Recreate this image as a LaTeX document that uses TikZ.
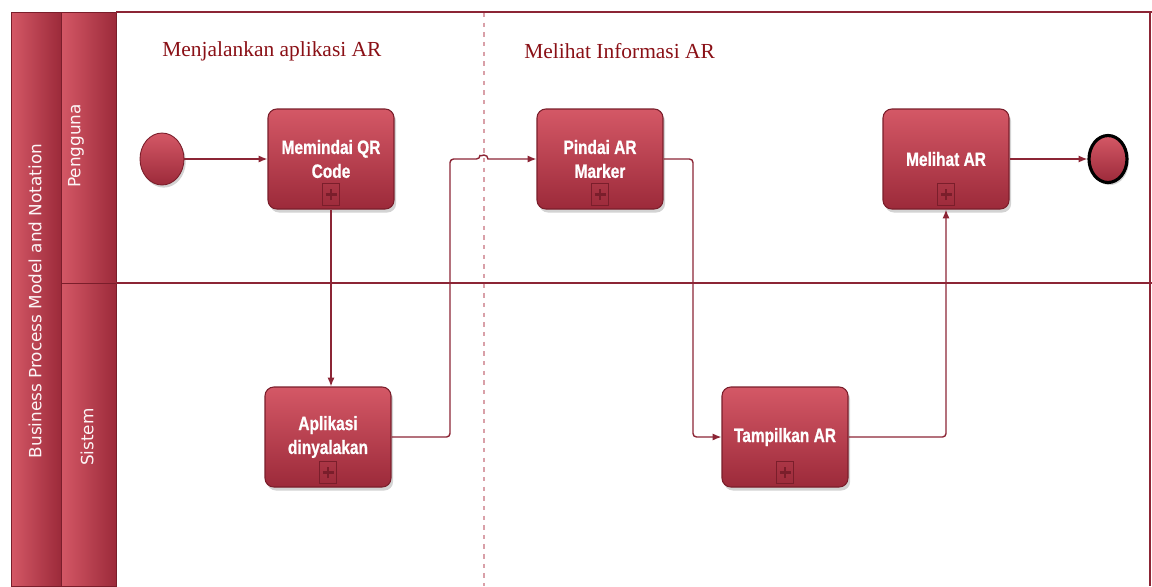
\documentclass[tikz,border=0pt]{standalone}
\usepackage{fontspec}
\setmainfont{Liberation Serif}
\newfontfamily\taskfont[FakeStretch=0.8,BoldFeatures={FakeBold=0.8}]{Liberation Sans}
\newfontfamily\lanefont{DejaVu Sans}
\usetikzlibrary{arrows.meta,shapes.geometric,shadows}
\definecolor{bpmtop}{HTML}{D45866}
\definecolor{bpmbot}{HTML}{9C2A3A}
\definecolor{bpmedge}{HTML}{7A1E2B}
\definecolor{bpmline}{HTML}{8C2535}
\definecolor{bpmtitle}{HTML}{8A1016}
\definecolor{bpmdash}{HTML}{D9A0A8}
\begin{document}
\begin{tikzpicture}[x=0.02cm,y=-0.02cm,
  band/.style={draw=bpmedge, line width=0.5pt, left color=bpmtop, right color=bpmbot},
  lanelabel/.style={rotate=90, text=white!94!bpmtop, font={\lanefont\fontsize{9.6}{11}\selectfont}},
  phase/.style={anchor=west, inner sep=0pt, text=bpmtitle, font={\fontsize{12.2}{14}\selectfont}},
  task/.style={draw=bpmedge, line width=0.6pt, rounded corners=5pt,
    top color=bpmtop, bottom color=bpmbot, minimum width=2.52cm, minimum height=2cm,
    align=center, text=white, font={\taskfont\bfseries\fontsize{11}{13.6}\selectfont},
    drop shadow={shadow xshift=1.2pt, shadow yshift=-2pt, opacity=0.35}},
  plusbox/.style={draw=bpmedge, line width=0.7pt, minimum width=0.34cm, minimum height=0.44cm, inner sep=0pt,
    path picture={\draw[bpmedge, line width=1.3pt]
      ([xshift=-0.11cm]path picture bounding box.center) -- ([xshift=0.11cm]path picture bounding box.center)
      ([yshift=-0.11cm]path picture bounding box.center) -- ([yshift=0.11cm]path picture bounding box.center);}},
  event/.style={ellipse, draw=bpmedge, line width=0.5pt, top color=bpmtop, bottom color=bpmbot,
    minimum width=0.88cm, minimum height=1.04cm,
    drop shadow={shadow xshift=1pt, shadow yshift=-1.5pt, opacity=0.35}},
  endevent/.style={event, draw=black, line width=1.8pt, minimum width=0.76cm, minimum height=0.94cm},
  flow/.style={draw=bpmline, line width=0.8pt, rounded corners=2pt, -{Latex[length=5pt,width=4pt]}}]
\useasboundingbox (0,0) rectangle (1152,586);

% pool and lanes
\draw[band] (11,12) rectangle (61,586);
\draw[band] (61,12) rectangle (116,283);
\draw[band] (61,283) rectangle (116,586);
\draw[bpmline, line width=0.8pt] (116,12) -- (1152,12);
\draw[bpmline, line width=0.8pt] (116,283) -- (1152,283);
\draw[bpmline, line width=0.8pt] (1150,12) -- (1150,586);
\node[lanelabel] (poolname) at (35,301) {Business Process Model and Notation};
\node[lanelabel] (pengguna) at (76,146) {Pengguna};
\node[lanelabel] (sistem) at (87,437) {Sistem};

% phases
\draw[bpmdash, line width=0.8pt, dash pattern=on 2.5pt off 3pt] (484,13) -- (484,586);
\node[phase] (run) at (162,51) {Menjalankan aplikasi AR};
\node[phase] (view) at (524,51) {Melihat Informasi AR};

% events and tasks
\node[event] (start) at (162,159) {};
\node[endevent] (stop) at (1108,159) {};
\node[task] (qr) at (331,159) {Memindai QR\\Code};
\node[task] (app) at (328,437) {Aplikasi\\dinyalakan};
\node[task] (pindai) at (600,159) {Pindai AR\\Marker};
\node[task] (tampil) at (785,437) {Tampilkan AR};
\node[task] (lihat) at (946,159) {Melihat AR};
\foreach \t in {qr,app,pindai,tampil,lihat}
{
\node[plusbox] (\t-plus) at ([yshift=0.3cm]\t.south) {};
}

% flows
\coordinate (hop) at (480,159);
\draw[flow] (start) -- (qr);
\draw[flow] (qr.south) -- (qr.south |- app.north);
\draw[flow] (app.east) -- (450,437) -- (450,159) -- (hop) [sharp corners] arc (180:0:0.08cm) -- (pindai.west);
\draw[flow] (pindai.east) -- (693,159) -- (693,437) -- (tampil.west);
\draw[flow] (tampil.east) -| (lihat.south);
\draw[flow] (lihat.east) -- (stop);
\end{tikzpicture}
\end{document}
